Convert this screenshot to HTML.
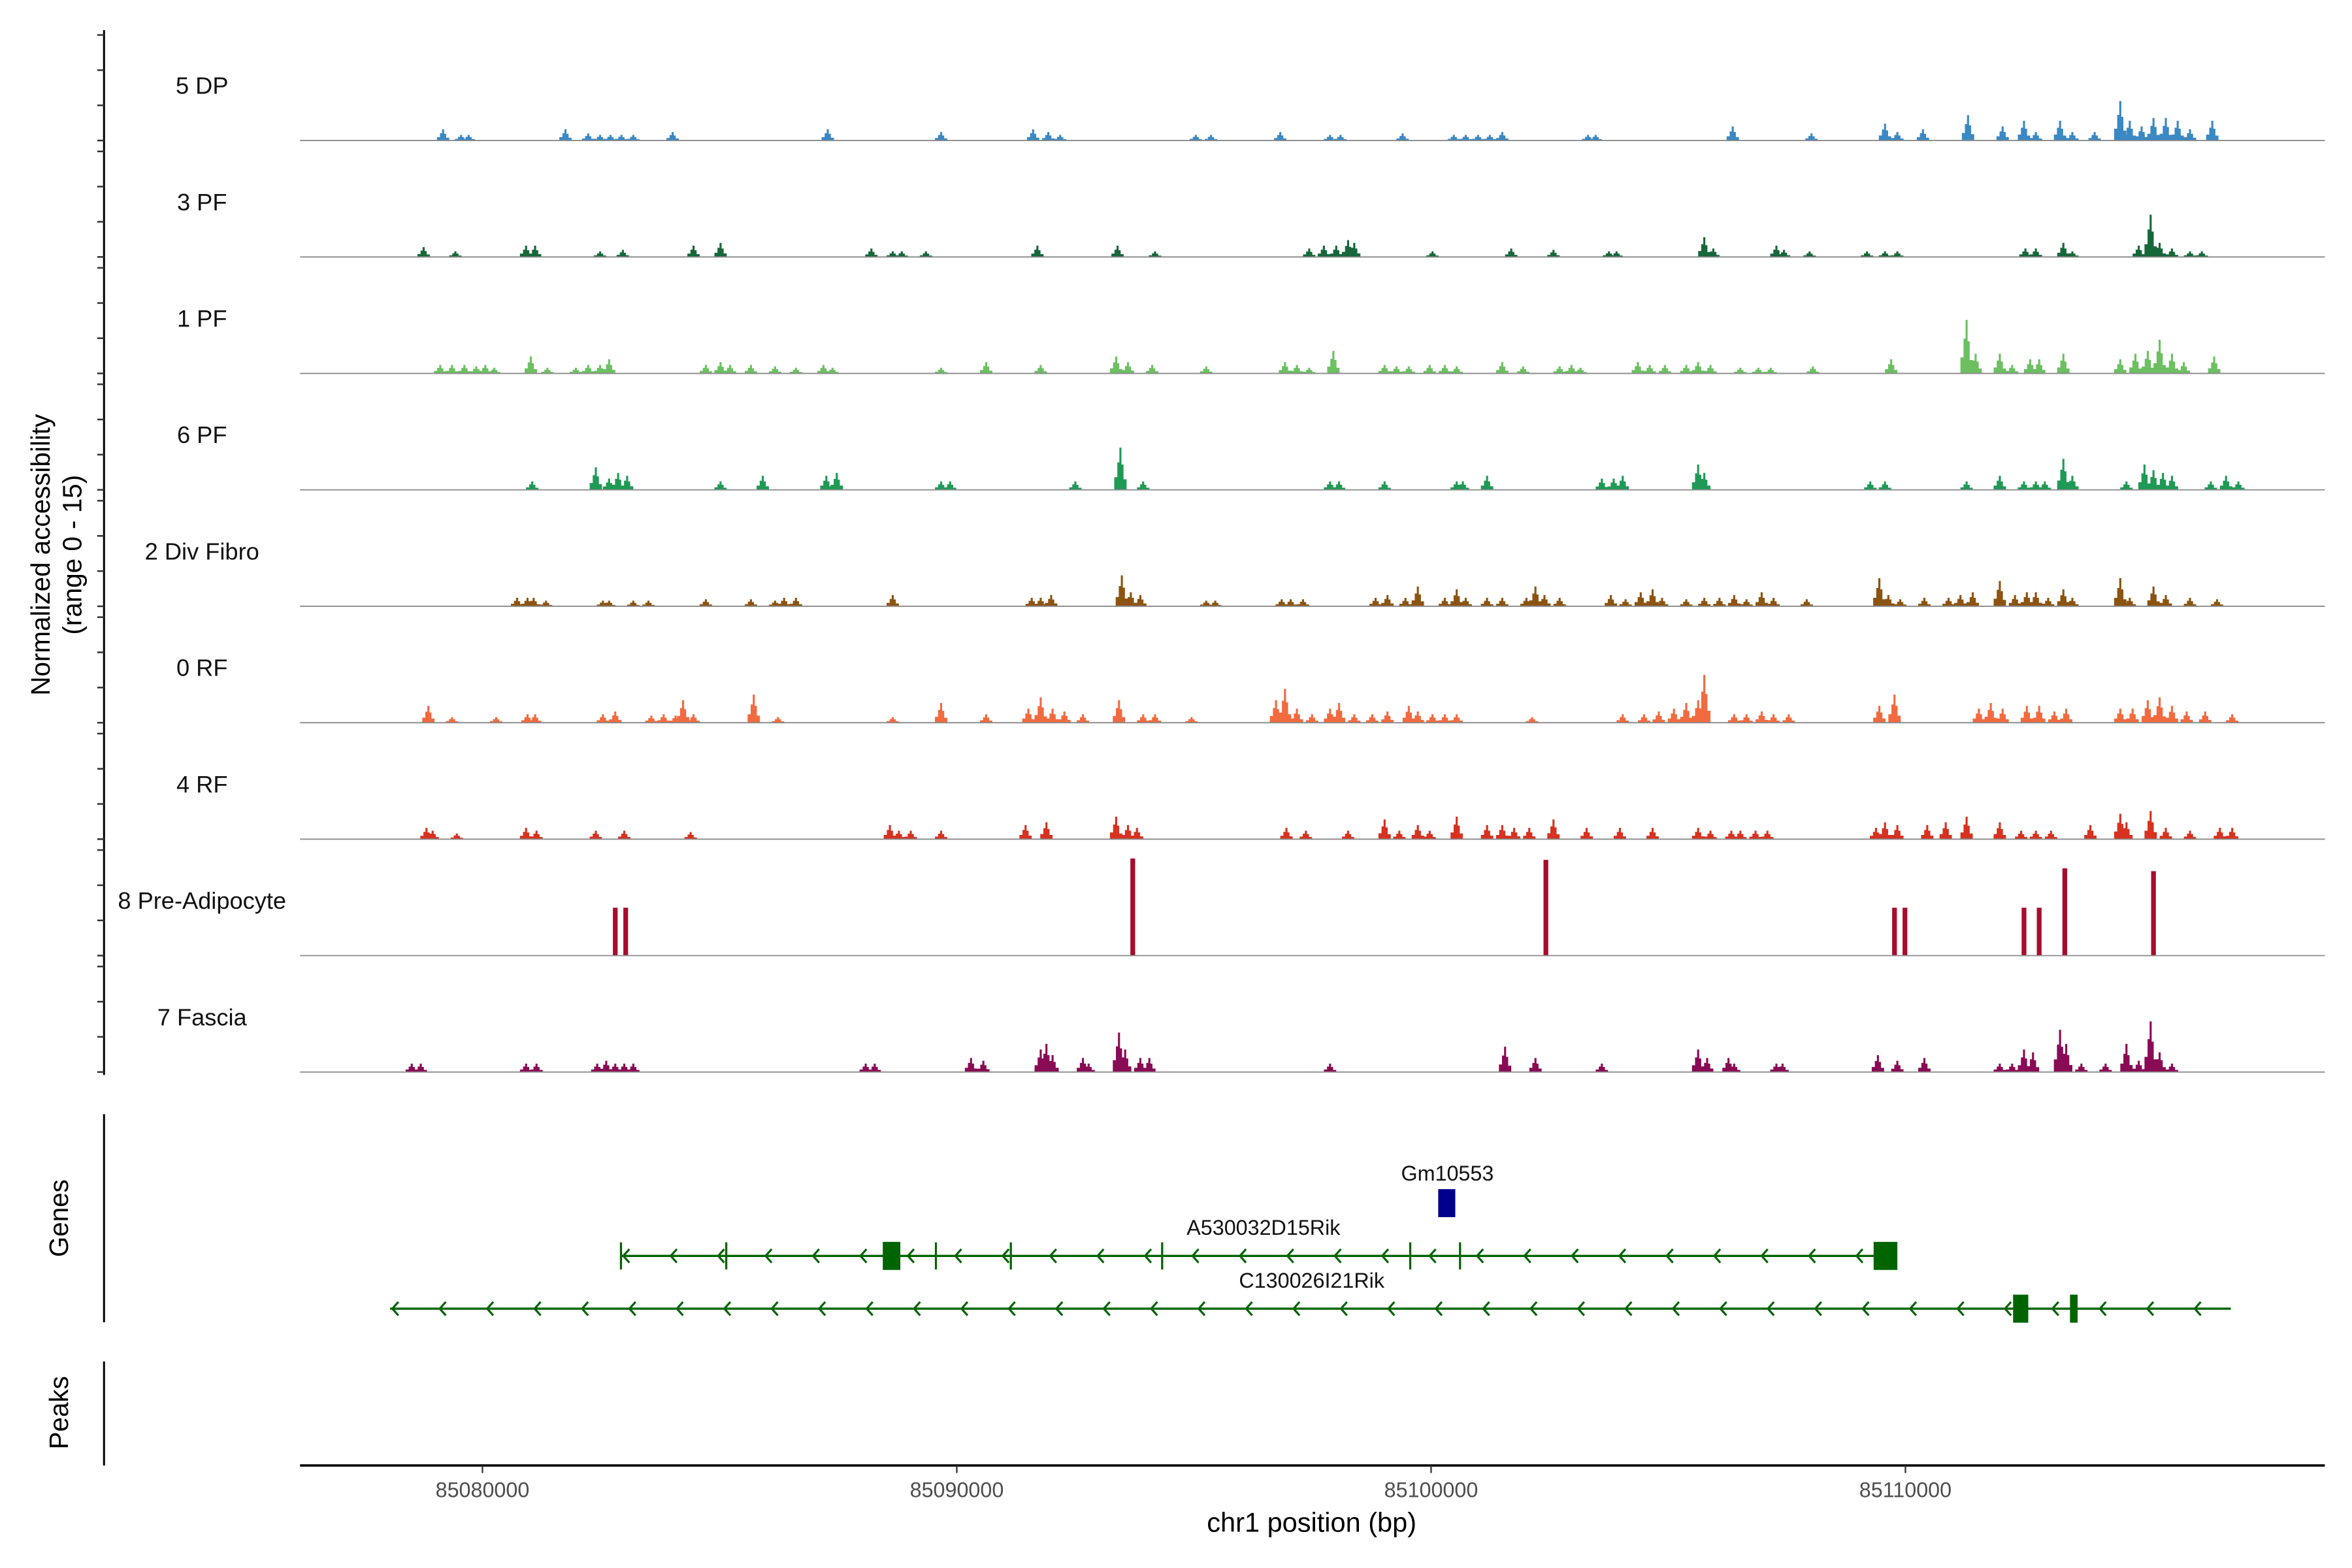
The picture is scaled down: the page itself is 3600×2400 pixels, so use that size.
<!DOCTYPE html>
<html><head><meta charset="utf-8"><style>
html,body{margin:0;padding:0;background:#fff}
svg{display:block}
text{font-family:"Liberation Sans",Arial,sans-serif}
</style></head><body>
<svg id="chart" xmlns="http://www.w3.org/2000/svg" width="3600" height="2400" viewBox="0 0 1560 1040">
<rect x="0" y="0" width="1560" height="1040" fill="#fff"/>
<g id="tracks"></g>
<g id="genes"></g>
<g id="axes"></g>
<text x="33" y="368" font-size="17.5" text-anchor="middle" transform="rotate(-90 33 368)">Normalized accessibility</text>
<text x="54" y="368" font-size="17.5" text-anchor="middle" transform="rotate(-90 54 368)">(range 0 - 15)</text>
<text x="45" y="808" font-size="17.5" text-anchor="middle" transform="rotate(-90 45 808)">Genes</text>
<text x="45" y="937" font-size="17.5" text-anchor="middle" transform="rotate(-90 45 937)">Peaks</text>
<text x="870" y="1016" font-size="18" text-anchor="middle">chr1 position (bp)</text>
</svg>
<script>
// positions in kb offset from chr1:85,000,000
const trackNames = ["5 DP","3 PF","1 PF","6 PF","2 Div Fibro","0 RF","4 RF","8 Pre-Adipocyte","7 Fascia"];
const trackColors = ["#3a88c4","#16673a","#6cc062","#1f9a55","#8c5410","#f26a3f","#d7311f","#a80c2c","#8a0b55"];
const xTicksKb = [80,90,100,110];
const xTickLabels = ["85080000","85090000","85100000","85110000"];

const pos0 = [79.17,79.55,79.71,81.75,82.23,82.48,82.70,82.93,83.18,84.01,87.28,89.67,91.61,91.93,92.18,95.04,95.36,96.82,97.87,98.09,99.40,100.48,100.73,100.99,101.24,101.50,103.31,103.47,106.36,108.02,109.57,109.83,110.37,111.32,112.05,112.50,112.75,113.26,113.52,113.99,114.53,114.73,114.98,115.23,115.49,115.74,116.00,116.47];
const val0 = [1.6,.8,.8,1.6,1,.8,.8,.8,.8,1.2,1.6,1.2,1.6,1.2,.8,.8,.8,1.2,.8,.8,1,.8,.8,.8,.8,1.2,.8,.8,2,1,2.4,1.2,1.6,3.6,2,2.8,1.2,2.8,1.2,1.2,5.6,2.8,2,3.2,3.2,2.8,1.6,2.8];
const pos1 = [78.76,79.43,80.92,81.11,82.48,82.96,84.45,85.02,88.20,88.65,88.84,89.35,91.70,93.39,94.18,97.43,97.74,98.00,98.25,98.38,100.03,101.69,102.58,103.75,103.91,105.76,105.95,107.28,107.44,107.98,109.19,109.57,109.83,112.53,112.75,113.33,113.52,114.92,115.17,115.36,115.62,116.00,116.25];
const val1 = [1.4,.8,1.6,1.6,.8,1,1.6,2,1.2,.8,.8,.8,1.6,1.6,.8,1.2,1.6,1.6,2.4,2,.8,1.2,1,.8,.8,2.8,1.2,1.6,1,.8,.8,.8,.8,1.2,1.2,2,.8,1.6,6,2,1.2,.8,.8];
const pos2 = [79.11,79.36,79.62,79.87,80.06,80.25,81.02,81.37,81.97,82.23,82.48,82.67,84.71,85.02,85.22,85.66,86.17,86.61,87.19,87.38,89.67,90.62,91.77,93.36,93.61,94.12,95.26,96.92,97.17,97.43,97.94,99.02,99.27,99.53,99.97,100.29,100.54,101.50,101.94,102.71,102.96,103.15,104.36,104.61,104.93,105.38,105.63,105.89,106.52,106.90,107.16,108.05,109.70,111.29,111.48,111.99,112.25,112.63,112.82,113.33,114.53,114.85,115.11,115.36,115.62,115.87,116.51];
const val2 = [1.2,1.2,1.2,1,1.2,.8,2.4,.8,.8,1.2,1.2,2,1.2,1.6,1.2,1.2,1,.8,1.2,.8,.8,1.6,1.2,2.4,1.6,1.2,1,1.6,1.2,.8,3.2,1.2,1,1,1.2,1.2,1,1.6,1,1,1.2,.8,1.6,1.2,1.2,1.2,1.6,1.2,.8,.8,.8,1,2,7.6,2.8,2.8,1.2,2,2,2.8,2,2.8,3.2,4.8,2.8,1.6,2.4];
const pos3 = [81.05,82.39,82.67,82.86,83.05,85.02,85.91,87.25,87.47,89.67,89.86,92.50,93.45,93.93,97.87,98.06,99.02,100.54,100.67,101.18,103.60,103.85,104.04,105.63,105.76,109.26,109.57,111.29,111.99,112.50,112.75,112.94,113.33,113.52,114.66,115.04,115.23,115.43,115.62,116.44,116.76,117.02];
const val3 = [1.2,3.2,1.6,2.4,2,1.2,2,2,2.4,1.2,1.2,1.2,6,1.2,1.2,1.2,1.2,1.2,1.2,2,1.6,1.6,2,3.6,2.4,1.2,1.2,1.2,2,1.2,1.2,1.2,4.4,2,1.2,3.6,2.8,2.4,2,1.2,2,1.2];
const pos4 = [80.73,80.95,81.08,81.34,82.54,82.67,83.18,83.50,84.71,85.66,86.17,86.36,86.61,88.65,91.58,91.77,91.99,93.48,93.67,93.87,95.26,95.45,96.85,97.04,97.30,98.83,99.08,99.46,99.72,100.29,100.54,100.73,101.18,101.50,102.01,102.20,102.39,102.71,103.79,104.10,104.42,104.67,104.87,105.38,105.76,106.08,106.39,106.65,106.97,107.22,107.92,109.45,109.64,109.89,110.40,110.91,111.16,111.42,111.99,112.31,112.56,112.75,113.01,113.33,113.52,114.53,114.73,115.23,115.49,116.00,116.57];
const val4 = [1.2,1.2,1.2,.8,.8,.8,.8,.8,1,1,.8,1.2,1.2,1.6,1.2,1.2,1.6,4.4,2,1.6,.8,.8,1,1,1,1.2,1.6,1.2,2.8,1.2,2.4,1.2,1.2,1.2,1.2,2.8,1.6,1.2,1.6,1,2,2.4,1.2,1,1.2,1.2,1.6,1,2,1.2,1,4,1.6,1,1.2,1.2,1.6,2,3.6,1.6,2,2,1.2,2.4,1.2,4,1.2,2.8,1.6,1.2,1];
const pos5 = [78.86,79.36,80.29,80.95,81.11,82.54,82.80,83.56,83.82,84.07,84.23,84.45,85.72,86.23,88.65,89.67,90.62,91.51,91.77,92.02,92.27,92.66,93.42,93.93,94.18,94.95,96.73,96.92,97.17,97.49,97.87,98.06,98.38,98.76,99.08,99.53,99.72,100.03,100.29,100.54,102.13,104.04,104.49,104.80,105.12,105.38,105.63,105.76,106.39,106.65,106.97,107.22,107.54,109.45,109.77,111.55,111.80,112.05,112.56,112.82,113.14,113.39,114.53,114.79,115.11,115.36,115.62,115.93,116.32,116.89];
const val5 = [2.4,.8,.8,1.2,1.2,1.2,1.6,1,1.2,1,3.2,1.2,4,.8,.8,2.8,1.2,2,3.6,2,1.6,1.2,3.2,1.2,1.2,.8,3.2,4.8,2,1.2,2,2.8,1.2,1.2,1.6,2.4,1.6,1.2,1.2,1.2,.8,1.2,1.2,1.6,2,2.8,3.2,6.8,1.2,1.2,1.6,1.2,1.2,2.4,4,2,2.8,2,2.4,2.4,1.6,2,2,2,3.2,3.6,2.4,1.6,1.6,1.2];
const pos6 = [78.82,78.95,79.46,80.92,81.14,82.39,82.99,84.39,88.59,88.78,89.03,89.67,91.45,91.89,93.36,93.61,93.80,96.95,97.36,98.25,99.02,99.33,99.72,99.97,100.54,101.18,101.50,101.75,102.07,102.58,103.28,103.98,104.67,105.63,105.89,106.33,106.52,106.84,107.09,109.38,109.57,109.83,110.46,110.85,111.29,111.99,112.44,112.75,113.07,113.90,114.53,114.66,115.17,115.49,116.00,116.63,116.89];
const val6 = [1.6,1.2,.8,1.6,1.2,1.2,1.2,1,2,1.2,1.2,1.2,2,2.4,3.2,2,1.6,1.6,1.2,1.2,2.8,1.2,2,1.2,3.2,2,2,1.6,1.6,2.8,1.6,1.6,1.6,1.6,1.2,1.2,1.2,1.2,1.2,1.6,2.4,2,2,2.4,3.2,2.4,1.2,1.2,1.2,2,3.6,2.4,4,1.6,1.2,1.6,1.6];
const pos7 = [82.80,83.02,93.71,102.42,109.77,109.99,112.50,112.82,113.36,115.23];
const val7 = [6.8,6.8,13.8,13.6,6.8,6.8,6.8,6.8,12.4,12];
const pos8 = [78.51,78.70,80.92,81.14,82.42,82.61,82.80,82.99,83.18,88.08,88.27,90.30,90.56,91.77,91.89,92.02,92.66,92.78,93.42,93.55,93.87,94.06,97.87,101.56,102.20,103.60,105.63,105.82,106.27,106.39,107.28,107.41,109.42,109.83,110.40,111.99,112.25,112.50,112.69,113.26,113.39,113.71,114.22,114.66,114.92,115.17,115.36,115.62];
const val8 = [1.2,1.2,1.2,1.2,1.2,1.6,1.2,1.2,1.2,1.2,1.2,2,1.6,3.2,4,2.4,2,1.2,5.6,3.2,2,2,1.2,3.6,2,1.2,3.2,2,2,1.2,1.2,1.2,2.4,1.6,2,1.2,1.2,3.2,2.8,6,4,1.2,1.2,4,1.6,7.2,2.8,1.2];

// genes
const geneNames = ["A530032D15Rik","C130026I21Rik","Gm10553"];
const geneStarts = [82.92,78.05,100.15];
const geneEnds = [109.83,116.86,100.51];
const geneExonStarts = [[88.44,109.33],[112.27,113.47],[100.15]];
const geneExonEnds = [[88.81,109.83],[112.59,113.63],[100.51]];
const geneMarkers = [[82.92,85.14,89.56,91.14,94.33,99.56,100.61],[],[]];

const NS = "http://www.w3.org/2000/svg";
const X0 = 199, X1 = 1542;
function xs(kb){ return 320 + (kb - 80) * 31.46; }
const UNIT = 70/15;
const base0 = 93.2, step = 77.23;
function mk(tag, attrs, parent){ const e = document.createElementNS(NS, tag); for (const k in attrs) e.setAttribute(k, attrs[k]); parent.appendChild(e); return e; }

const allPos = [pos0,pos1,pos2,pos3,pos4,pos5,pos6,pos7,pos8];
const allVal = [val0,val1,val2,val3,val4,val5,val6,val7,val8];
const tg = document.getElementById("tracks");
trackNames.forEach((name, i) => {
  const b = base0 + step * i;
  const g = mk("g", {}, tg);
  
  
  const lbl = mk("text", {x: 134, y: b - 31, "font-size": 15.7, "text-anchor": "middle", fill: "#111"}, g);
  lbl.textContent = name;
  
  
  const P = allPos[i], V = allVal[i];
  const n = Math.min(P.length, V.length);
  let d = "";
  for (let j = 0; j < n; j++) {
    const c = P[j], v = V[j];
    const yv = f => (b - f * v * UNIT).toFixed(2);
    if (i === 7) {
      const l = xs(c - 0.05), r = xs(c + 0.05);
      d += `M${l.toFixed(2)},${b}V${yv(1)}H${r.toFixed(2)}V${b}Z`;
    } else {
      const hw = 0.13;
      d += `M${xs(c-hw).toFixed(2)},${b}V${yv(0.3)}H${xs(c-hw/2).toFixed(2)}V${yv(0.65)}H${xs(c-hw/6).toFixed(2)}V${yv(1)}H${xs(c+hw/6).toFixed(2)}V${yv(0.6)}H${xs(c+hw/2).toFixed(2)}V${yv(0.25)}H${xs(c+hw).toFixed(2)}V${b}Z`;
    }
  }
  const p = mk("path", {d: d, fill: trackColors[i]}, g);
  
  
  const bl = mk("line", {x1: X0, x2: X1, y1: b, y2: b, stroke: "#8a8a8a", "stroke-width": 0.8}, g);
  
  
});

// genes
const gg = document.getElementById("genes");
const geneY = [833, 868, 798];
const labelY = [819, 854, 783];
const labelX = [838, 870, 960];
geneNames.forEach((nm, i) => {
  const g = mk("g", {}, gg);
  
  
  const col = i === 2 ? "#00008b" : "#006400";
  const y = geneY[i];
  const t = mk("text", {x: labelX[i], y: labelY[i], "font-size": 14, "text-anchor": "middle", fill: "#111"}, g);
  t.textContent = nm;
  
  
  if (i < 2) {
    const ln = mk("line", {x1: xs(geneStarts[i]), x2: xs(geneEnds[i]), y1: y, y2: y, stroke: col, "stroke-width": 1.5}, g);
    
    
    let d = "";
    for (let k = geneStarts[i] + 0.05; k < geneEnds[i]; k += 1.0) {
      const x = xs(k);
      d += `M${(x+4).toFixed(2)},${y-4.5}L${x.toFixed(2)},${y}L${(x+4).toFixed(2)},${y+4.5}`;
    }
    const ar = mk("path", {d: d, stroke: col, "stroke-width": 1.4, fill: "none"}, g);
    
    
    geneMarkers[i].forEach(m => {
      const mm = mk("line", {x1: xs(m), x2: xs(m), y1: y - 9, y2: y + 9, stroke: col, "stroke-width": 1.4}, g);
      
      
    });
  }
  geneExonStarts[i].forEach((s, k) => {
    const e = geneExonEnds[i][k];
    const r = mk("rect", {x: xs(s), y: y - 9.3, width: Math.max(1.5, xs(e) - xs(s)), height: 18.6, fill: col}, g);
    
    
  });
});

// axes
const ax = document.getElementById("axes");
const yl = mk("line", {x1: 69, x2: 69, y1: 20, y2: 713, stroke: "#000", "stroke-width": 1.3}, ax);


for (let i = 0; i < 9; i++) {
  const b = base0 + step * i;
  for (let k = 0; k <= 3; k++) {
    const y = b - k * 5 * UNIT;
    const t = mk("line", {x1: 64.5, x2: 69, y1: y, y2: y, stroke: "#333", "stroke-width": 1.1}, ax);
    
    
  }
}
const gl = mk("line", {x1: 69, x2: 69, y1: 739, y2: 877, stroke: "#000", "stroke-width": 1.3}, ax);


const pl = mk("line", {x1: 69, x2: 69, y1: 903, y2: 972, stroke: "#000", "stroke-width": 1.3}, ax);


const xl = mk("line", {x1: X0, x2: X1, y1: 972, y2: 972, stroke: "#000", "stroke-width": 1.6}, ax);


xTicksKb.forEach((kb, i) => {
  const x = xs(kb);
  const t = mk("line", {x1: x, x2: x, y1: 972, y2: 977, stroke: "#333", "stroke-width": 1}, ax);
  
  
  const l = mk("text", {x: x, y: 993, "font-size": 14, "text-anchor": "middle", fill: "#4d4d4d"}, ax);
  l.textContent = xTickLabels[i];
  
  
});
</script>
</body></html>
